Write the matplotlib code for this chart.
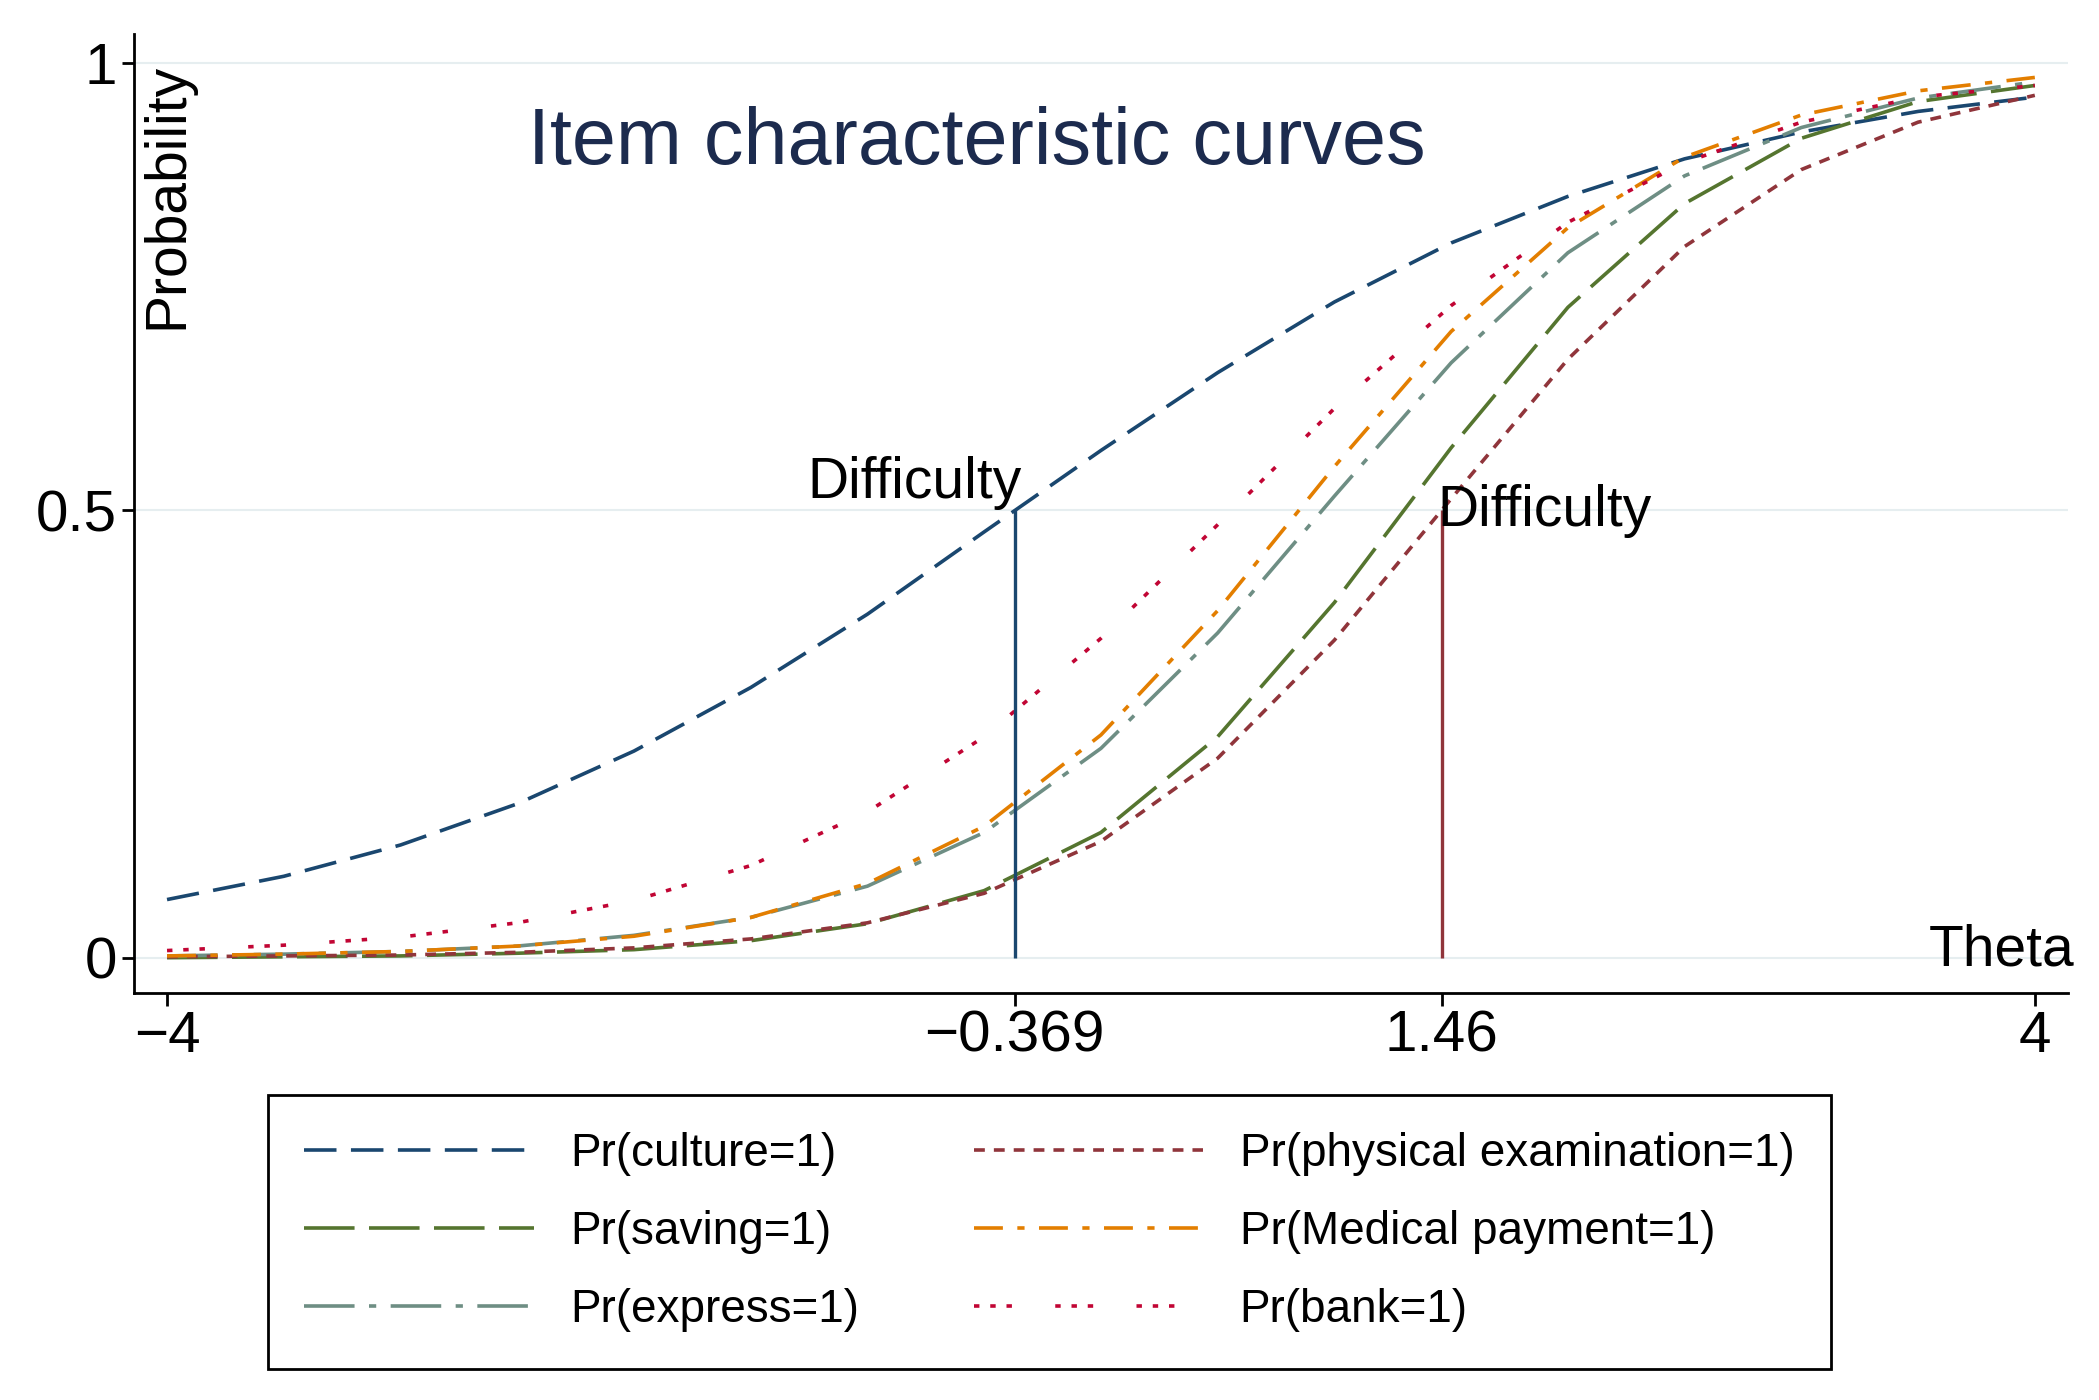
import matplotlib
matplotlib.use("Agg")
import matplotlib.pyplot as plt

plt.rcParams["font.family"] = ["Liberation Sans", "DejaVu Sans"]

theta = [-4, -3.5, -3, -2.5, -2, -1.5, -1, -0.5, 0, 0.5, 1, 1.5, 2, 2.5, 3, 3.5, 4]
culture = [0.065, 0.091, 0.126, 0.172, 0.231, 0.302, 0.384, 0.476, 0.567, 0.654, 0.733, 0.799, 0.851, 0.893, 0.923, 0.946, 0.962]
physical = [0.001, 0.002, 0.003, 0.006, 0.011, 0.021, 0.039, 0.072, 0.130, 0.223, 0.355, 0.513, 0.669, 0.795, 0.881, 0.934, 0.964]
saving = [0.000, 0.001, 0.002, 0.005, 0.009, 0.019, 0.038, 0.075, 0.140, 0.247, 0.397, 0.570, 0.727, 0.843, 0.916, 0.957, 0.975]
medical = [0.002, 0.004, 0.007, 0.013, 0.024, 0.045, 0.083, 0.147, 0.249, 0.388, 0.549, 0.700, 0.816, 0.895, 0.942, 0.969, 0.984]
express = [0.002, 0.004, 0.007, 0.013, 0.025, 0.045, 0.080, 0.140, 0.234, 0.363, 0.516, 0.665, 0.788, 0.874, 0.928, 0.961, 0.979]
bank = [0.008, 0.014, 0.023, 0.039, 0.064, 0.103, 0.163, 0.247, 0.357, 0.484, 0.614, 0.729, 0.822, 0.889, 0.934, 0.962, 0.975]
difficulty = [-0.369, 1.46]
xticks = [-4, -0.369, 1.46, 4]
xtick_labels = ["\u22124", "\u22120.369", "1.46", "4"]

NAVY, MAROON, GREEN, ORANGE, TEAL, CRAN = "#1a476f", "#90353b", "#55752f", "#e37e00", "#6e8e84", "#c10534"

fig = plt.figure(figsize=(20.99, 14), dpi=100)
ax = fig.add_axes([0.064, 0.291, 0.921, 0.685])
lw = 2.6
ax.plot(theta, culture, color=NAVY, lw=lw, dashes=(9, 4), label="Pr(culture=1)")
ax.plot(theta, saving, color=GREEN, lw=lw, dashes=(14, 4), label="Pr(saving=1)")
ax.plot(theta, express, color=TEAL, lw=lw, dashes=(14, 4, 2, 4), label="Pr(express=1)")
ax.plot(theta, physical, color=MAROON, lw=lw, dashes=(3, 2.5), label="Pr(physical examination=1)")
ax.plot(theta, medical, color=ORANGE, lw=lw, dashes=(8, 4, 2, 4), label="Pr(Medical payment=1)")
ax.plot(theta, bank, color=CRAN, lw=lw, dashes=(1.5, 3, 1.5, 3, 1.5, 12), label="Pr(bank=1)")

ax.vlines(difficulty[0], 0, 0.5, color=NAVY, lw=2.4)
ax.vlines(difficulty[1], 0, 0.5, color=MAROON, lw=2.4)
ax.text(difficulty[0] + 0.03, 0.5, "Difficulty", fontsize=41, ha="right", va="bottom")
ax.text(difficulty[1] - 0.02, 0.53, "Difficulty", fontsize=41, ha="left", va="top")
ax.text(4.17, 0.008, "Theta", fontsize=41, ha="right", va="center")
ax.text(-4.0, 1.0, "Probability", fontsize=41, rotation=90, ha="center", va="top")
ax.text(-0.53, 0.91, "Item characteristic curves", fontsize=57, color="#1c2b4e", ha="center", va="center")

ax.set_xlim(-4.14, 4.14)
ax.set_ylim(-0.039, 1.033)
ax.set_xticks(xticks, xtick_labels)
ax.set_yticks([0, 0.5, 1], ["0", "0.5", "1"])
ax.tick_params(labelsize=42, length=9, width=2)
for y in [0, 0.5, 1]:
    ax.axhline(y, color="#e6eef0", lw=1.5, zorder=0)
for s in ["top", "right"]:
    ax.spines[s].set_visible(False)
for s in ["left", "bottom"]:
    ax.spines[s].set_linewidth(2)

h, l = ax.get_legend_handles_labels()
leg = fig.legend(h, l, loc="center", bbox_to_anchor=(0.5, 0.12), ncol=2, fontsize=33,
                 handlelength=5.0, columnspacing=2.5, labelspacing=0.75, borderpad=0.8,
                 fancybox=False, edgecolor="black", framealpha=1)
leg.get_frame().set_linewidth(2)

fig.savefig("out.png", dpi=100, facecolor="white")
